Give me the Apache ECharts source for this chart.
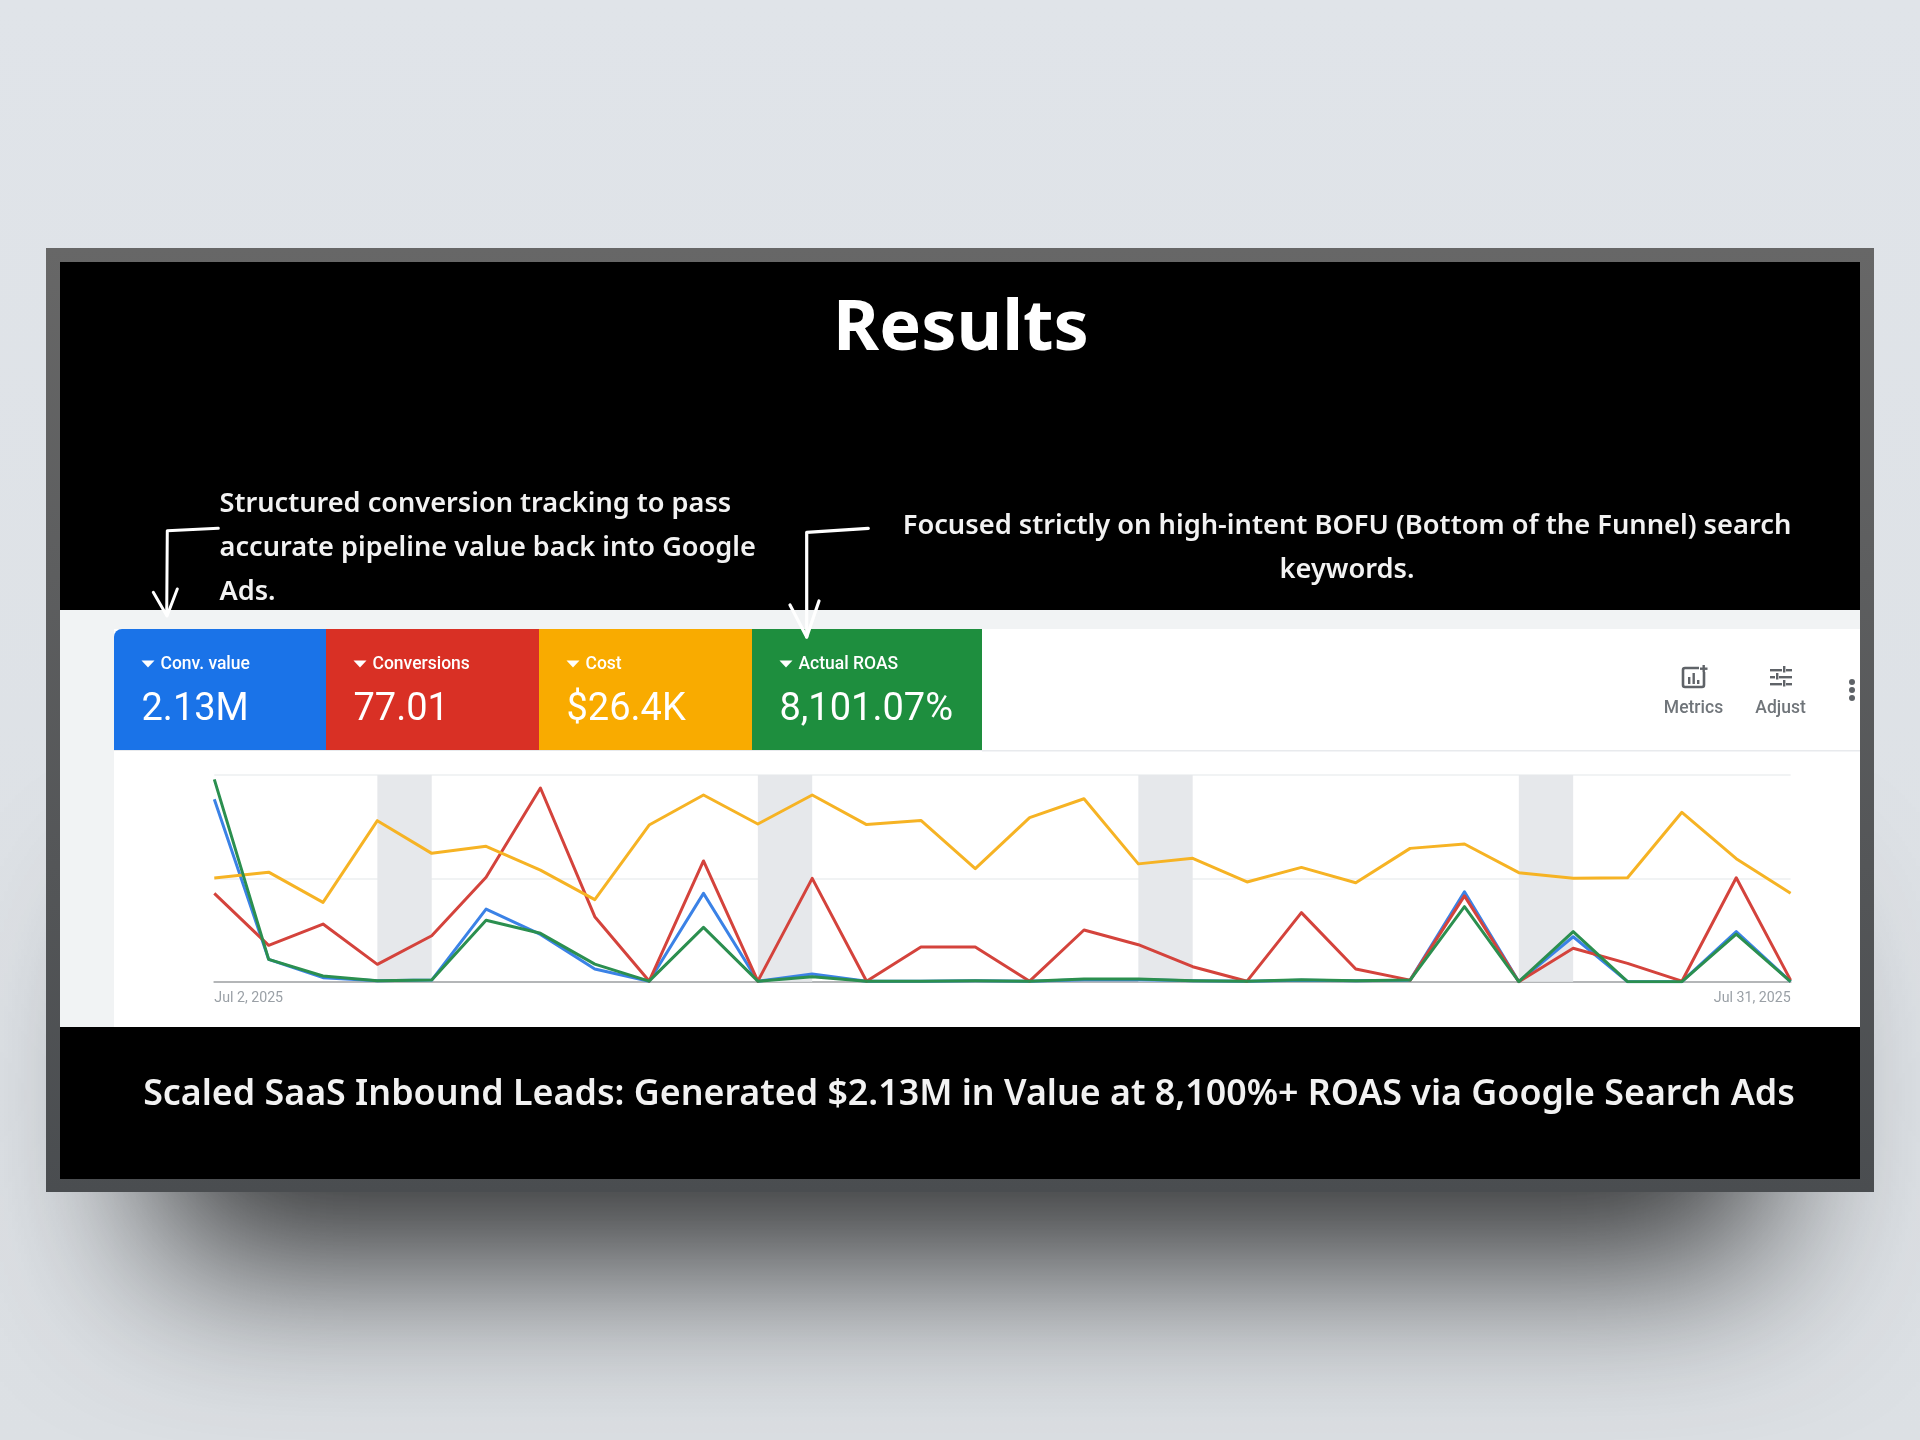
<!DOCTYPE html>
<html><head><meta charset="utf-8">
<script src="https://cdn.jsdelivr.net/npm/echarts@6/dist/echarts.min.js"></script>
<style>html,body{margin:0;padding:0;background:#dfe3e8}#c{width:1920px;height:1440px}</style>
</head><body><div id="c"></div>
<script>
const dates = ["Jul 2, 2025","Jul 3, 2025","Jul 4, 2025","Jul 5, 2025","Jul 6, 2025","Jul 7, 2025","Jul 8, 2025","Jul 9, 2025","Jul 10, 2025","Jul 11, 2025","Jul 12, 2025","Jul 13, 2025","Jul 14, 2025","Jul 15, 2025","Jul 16, 2025","Jul 17, 2025","Jul 18, 2025","Jul 19, 2025","Jul 20, 2025","Jul 21, 2025","Jul 22, 2025","Jul 23, 2025","Jul 24, 2025","Jul 25, 2025","Jul 26, 2025","Jul 27, 2025","Jul 28, 2025","Jul 29, 2025","Jul 30, 2025","Jul 31, 2025"];
const convValue = [176.5,21.6,3.9,1,1.6,70.3,45.8,12.3,0.5,85.5,0.5,7.4,0.5,0.5,1,0.5,2,2,1,0.5,1.5,1,1.5,87,0,43.5,0,0,48.4,0];
const conversions = [85.5,35.2,55.8,16.8,44.5,101,187.4,62.9,0.6,116.8,0.6,100,0.5,33.5,33.5,0.5,50,35.8,14.5,0.5,66.8,12.3,1.5,83,0,32.3,17.7,0.5,100.6,1.5];
const cost = [100.3,106,76.8,155.8,124.2,131,108,79.4,151.6,180.6,152.6,180.6,152,156,109.4,158.7,177,114,119.4,96.5,110.6,95.8,129,133.2,105.5,100,100.6,163.9,119,85.5];
const actualRoas = [195.8,21.6,5.5,1,1.6,59.4,46.8,17,0.5,52.6,0.5,4.8,0.5,0.5,1,0.5,2.6,2.6,1,0.5,2,1,1.6,72.6,0,48.4,0,0,46,0];
const weekends = [["Jul 5, 2025","Jul 6, 2025"],["Jul 12, 2025","Jul 13, 2025"],["Jul 19, 2025","Jul 20, 2025"],["Jul 26, 2025","Jul 27, 2025"]];
const tileLabels = ["Conv. value","Conversions","Cost","Actual ROAS"];
const tileValues = ["2.13M","77.01","$26.4K","8,101.07%"];
const tileColors = ["#1a73e8","#d93025","#f9ab00","#1e8e3e"];
const lineColors = {blue:"#3b82e6",red:"#d4433c",yellow:"#f6b324",green:"#2b8f4f"};
const titleText = "Results";
const noteLeft = ["Structured conversion tracking to pass","accurate pipeline value back into Google","Ads."];
const noteRight = ["Focused strictly on high-intent BOFU (Bottom of the Funnel) search","keywords."];
const footerText = "Scaled SaaS Inbound Leads: Generated $2.13M in Value at 8,100%+ ROAS via Google Search Ads";

const FONT = '"Noto Sans","Open Sans",sans-serif';
const g = [];
const rect = (x,y,w,h,fill,z,extra={}) => g.push({type:'rect',shape:{x,y,width:w,height:h,r:extra.r||0},style:Object.assign({fill},extra.style||{}),z,silent:true});
const txt = (x,y,text,size,fill,opt={}) => g.push({type:'text',x,y,z:opt.z||20,silent:true,style:{text,fill,font:`${opt.weight||400} ${size}px ${opt.font||FONT}`,textAlign:opt.align||'left',textVerticalAlign:'middle',textBaseline:'middle'}});
const poly = (pts,stroke,w,z=30) => g.push({type:'polyline',shape:{points:pts},z,silent:true,style:{stroke,lineWidth:w,fill:null,lineCap:'round',lineJoin:'round'}});

// page background
rect(0,0,1920,1440,{type:'linear',x:0,y:0,x2:0,y2:1,colorStops:[{offset:0,color:'#e0e4e9'},{offset:1,color:'#dce0e4'}]},-30);
// soft drop shadow beneath frame (the caster stays hidden behind the frame)
rect(155,860,1610,330,'#555',-29,{style:{shadowBlur:170,shadowOffsetY:72,shadowColor:'rgba(0,0,0,0.8)'}});
// frame + black panel
rect(46,248,1828,944,{type:'linear',x:0,y:0,x2:0,y2:1,colorStops:[{offset:0,color:'#676767'},{offset:1,color:'#4a4d50'}]},-28);
rect(60,262,1800,917,'#000',-27);
// screenshot panel
rect(60,610,1800,417,'#f1f3f4',-26);
rect(114,629,1746,398,'#ffffff',-25);
rect(982,750,878,1.5,'#e8eaed',-24);
rect(114,750,868,1,'#e8eaed',-24);
// scorecards
const tileX = [114,326,539,752,982];
tileColors.forEach((c,i)=>{
  rect(tileX[i],629,tileX[i+1]-tileX[i],121,c,-23,{r:i===0?[8,0,0,0]:0});
  const x = tileX[i]+27.5;
  g.push({type:'polygon',shape:{points:[[x,660.5],[x+13,660.5],[x+6.5,667.5]]},z:-22,silent:true,style:{fill:'#fff'}});
  txt(x+19,665,tileLabels[i],17.5,'#fff',{font:'Roboto',weight:500});
  txt(x,710,tileValues[i],38,'#fff',{font:'Roboto'});
});
// toolbar
txt(1693.5,709,'Metrics',17.5,'#70757a',{font:'Roboto',weight:500,align:'center'});
txt(1780.5,709,'Adjust',17.5,'#70757a',{font:'Roboto',weight:500,align:'center'});
g.push({type:'rect',shape:{x:1683,y:668,width:21,height:19,r:2},z:-20,silent:true,style:{fill:null,stroke:'#5f6368',lineWidth:2.6}});
[[1688,677,2.4,7],[1692.5,673,2.4,11],[1697,680,2.4,4]].forEach(r=>rect(r[0],r[1],r[2],r[3],'#5f6368',-19));
rect(1699,664,9.5,8,'#fff',-19);
rect(1702.5,665,2.4,7,'#5f6368',-18); rect(1700,667.5,7.5,2.4,'#5f6368',-18);
[[1770,669,12,2.4],[1786,669,6,2.4],[1770,676,5,2.4],[1779,676,13,2.4],[1770,683,12,2.4],[1786,683,6,2.4],[1783,666,2.4,6.5],[1776,673,2.4,6.5],[1783,680,2.4,6.5]].forEach(r=>rect(r[0],r[1],r[2],r[3],'#5f6368',-19));
[682,690,698].forEach(y=>g.push({type:'circle',shape:{cx:1852,cy:y,r:3},z:-19,silent:true,style:{fill:'#5f6368'}}));
// texts
txt(961,330,titleText,70.3,'#fff',{weight:700,align:'center'});
noteLeft.forEach((t,i)=>txt(219.5,504+i*44,t,27.15,'#f2f2f2',{weight:600}));
noteRight.forEach((t,i)=>txt(1347,526+i*44,t,27.25,'#f2f2f2',{weight:600,align:'center'}));
txt(969,1095,footerText,35.8,'#f2f2f2',{weight:600,align:'center'});
// hand-drawn arrows
poly([[218.3,528.3],[167.3,530.7],[166.7,615]],'#fff',3);
poly([[153.3,592.3],[167,616],[177.3,589]],'#fff',3);
poly([[868.3,528.3],[806.7,532.3],[806.7,637]],'#fff',3.2);
poly([[790,605],[806.7,637],[819,601]],'#fff',3.2);

const mk = (name,data,color,extra={}) => Object.assign({name,type:'line',data,symbol:'none',smooth:false,lineStyle:{color,width:3,join:'round'},itemStyle:{color},animation:false,silent:true},extra);

const chart = echarts.init(document.getElementById('c'),null,{renderer:'canvas',width:1920,height:1440});
chart.setOption({
  animation:false,
  backgroundColor:'transparent',
  graphic:{elements:g},
  grid:{left:214.3,right:129.4,top:775,bottom:458.3,containLabel:false},
  xAxis:{type:'category',data:dates,boundaryGap:false,
    axisLine:{show:true,lineStyle:{color:'#b4b6b8',width:2}},axisTick:{show:false},splitLine:{show:false},
    axisLabel:{show:true,interval:i=>i===0||i===dates.length-1,alignMinLabel:'left',alignMaxLabel:'right',color:'#9aa0a6',fontFamily:'Roboto',fontSize:14.2,margin:10,hideOverlap:false,showMinLabel:true,showMaxLabel:true}},
  yAxis:{type:'value',min:0,max:200,interval:100,axisLine:{show:false},axisTick:{show:false},axisLabel:{show:false},
    splitLine:{lineStyle:{color:'#f1f3f4',width:2}}},
  series:[
    mk('Conv. value',convValue,lineColors.blue,{z:3,markArea:{silent:true,itemStyle:{color:'#e6e8eb'},data:weekends.map(w=>[{xAxis:w[0]},{xAxis:w[1]}])}}),
    mk('Conversions',conversions,lineColors.red,{z:4}),
    mk('Cost',cost,lineColors.yellow,{z:5}),
    mk('Actual ROAS',actualRoas,lineColors.green,{z:6})
  ]
});
</script></body></html>
